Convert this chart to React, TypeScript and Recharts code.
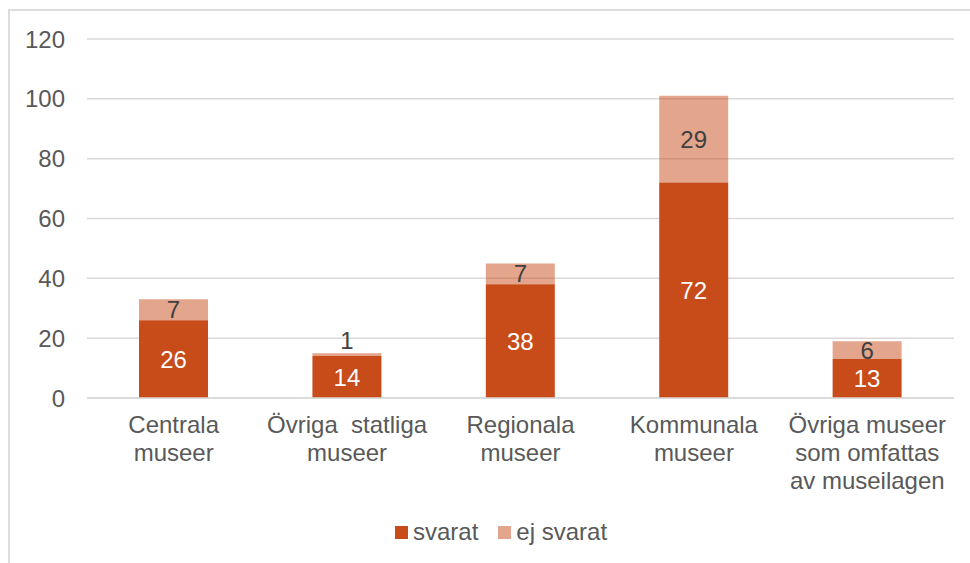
import { BarChart, Bar, XAxis, YAxis, CartesianGrid, Legend, LabelList } from 'recharts';

const categories = [
  'Centrala\nmuseer',
  'Övriga  statliga\nmuseer',
  'Regionala\nmuseer',
  'Kommunala\nmuseer',
  'Övriga museer\nsom omfattas\nav museilagen',
];
const svarat = [26, 14, 38, 72, 13];
const ejSvarat = [7, 1, 7, 29, 6];
const yTicks = [0, 20, 40, 60, 80, 100, 120];

const data = categories.map((name, i) => ({ name, svarat: svarat[i], ejSvarat: ejSvarat[i] }));

const FONT = '"Liberation Sans", Arial, sans-serif';
const TEXT = '#595959';
const DARK = '#C84B1A';
const FS = 24;

function CategoryTick({ x, y, payload }: any) {
  const lines = String(payload.value).split('\n');
  return (
    <text x={x} y={y} textAnchor="middle" fill={TEXT} fontSize={FS} fontFamily={FONT} style={{ whiteSpace: 'pre' }}>
      {lines.map((l, i) => (
        <tspan key={i} x={x} dy={i === 0 ? 35 : 28}>{l}</tspan>
      ))}
    </text>
  );
}

function TopLabel(props: any) {
  const { x, y, width, height, value } = props;
  // tiny segments get their label above the bar
  const cy = height < 10 ? y - 13 : y + height / 2;
  return (
    <text x={x + width / 2} y={cy} dy="0.355em" textAnchor="middle" fill="#404040" fontSize={FS} fontFamily={FONT}>
      {value}
    </text>
  );
}

function LegendBox() {
  const items = [
    { label: 'svarat', opacity: 1 },
    { label: 'ej svarat', opacity: 0.5 },
  ];
  return (
    <div style={{ display: 'flex', alignItems: 'center', height: 30, fontFamily: FONT, fontSize: FS, color: TEXT }}>
      {items.map((it) => (
        <div key={it.label} style={{ display: 'flex', alignItems: 'center', marginRight: 20 }}>
          <span style={{ width: 13, height: 13, background: DARK, opacity: it.opacity, marginRight: 5, display: 'inline-block' }} />
          <span>{it.label}</span>
        </div>
      ))}
    </div>
  );
}

export default function App() {
  return (
    <div style={{ position: 'absolute', left: 0, top: 0, width: 970, height: 563, overflow: 'hidden', background: '#fff' }}>
      <div
        style={{
          position: 'absolute',
          left: 8,
          top: 9,
          width: 962,
          height: 554,
          borderTop: '2px solid #DDDDDD',
          borderLeft: '2px solid #DDDDDD',
          boxSizing: 'border-box',
        }}
      />
      <div style={{ position: 'absolute', left: 0, top: 0 }}>
        <BarChart
          width={970}
          height={563}
          data={data}
          margin={{ top: 39, right: 16, left: 0, bottom: 16 }}
          barCategoryGap="30%"
        >
          <CartesianGrid vertical={false} stroke="#D9D9D9" strokeWidth={1.5} />
          <XAxis
            dataKey="name"
            interval={0}
            height={119}
            tickLine={false}
            tickSize={0}
            tickMargin={0}
            axisLine={{ stroke: '#D9D9D9', strokeWidth: 1.5 }}
            tick={<CategoryTick />}
          />
          <YAxis
            width={87}
            domain={[0, 120]}
            ticks={yTicks}
            tickLine={false}
            axisLine={false}
            tickSize={0}
            tickMargin={22}
            tick={{ fill: TEXT, fontSize: FS, fontFamily: FONT }}
          />
          <Legend
            verticalAlign="bottom"
            content={<LegendBox />}
            wrapperStyle={{ left: 395, bottom: 16, width: 260, height: 30 }}
          />
          <Bar dataKey="svarat" stackId="a" fill={DARK} isAnimationActive={false}>
            <LabelList dataKey="svarat" position="center" fill="#ffffff" fontSize={FS} fontFamily={FONT} />
          </Bar>
          <Bar dataKey="ejSvarat" stackId="a" fill={DARK} fillOpacity={0.5} isAnimationActive={false}>
            <LabelList dataKey="ejSvarat" content={<TopLabel />} />
          </Bar>
        </BarChart>
      </div>
    </div>
  );
}
